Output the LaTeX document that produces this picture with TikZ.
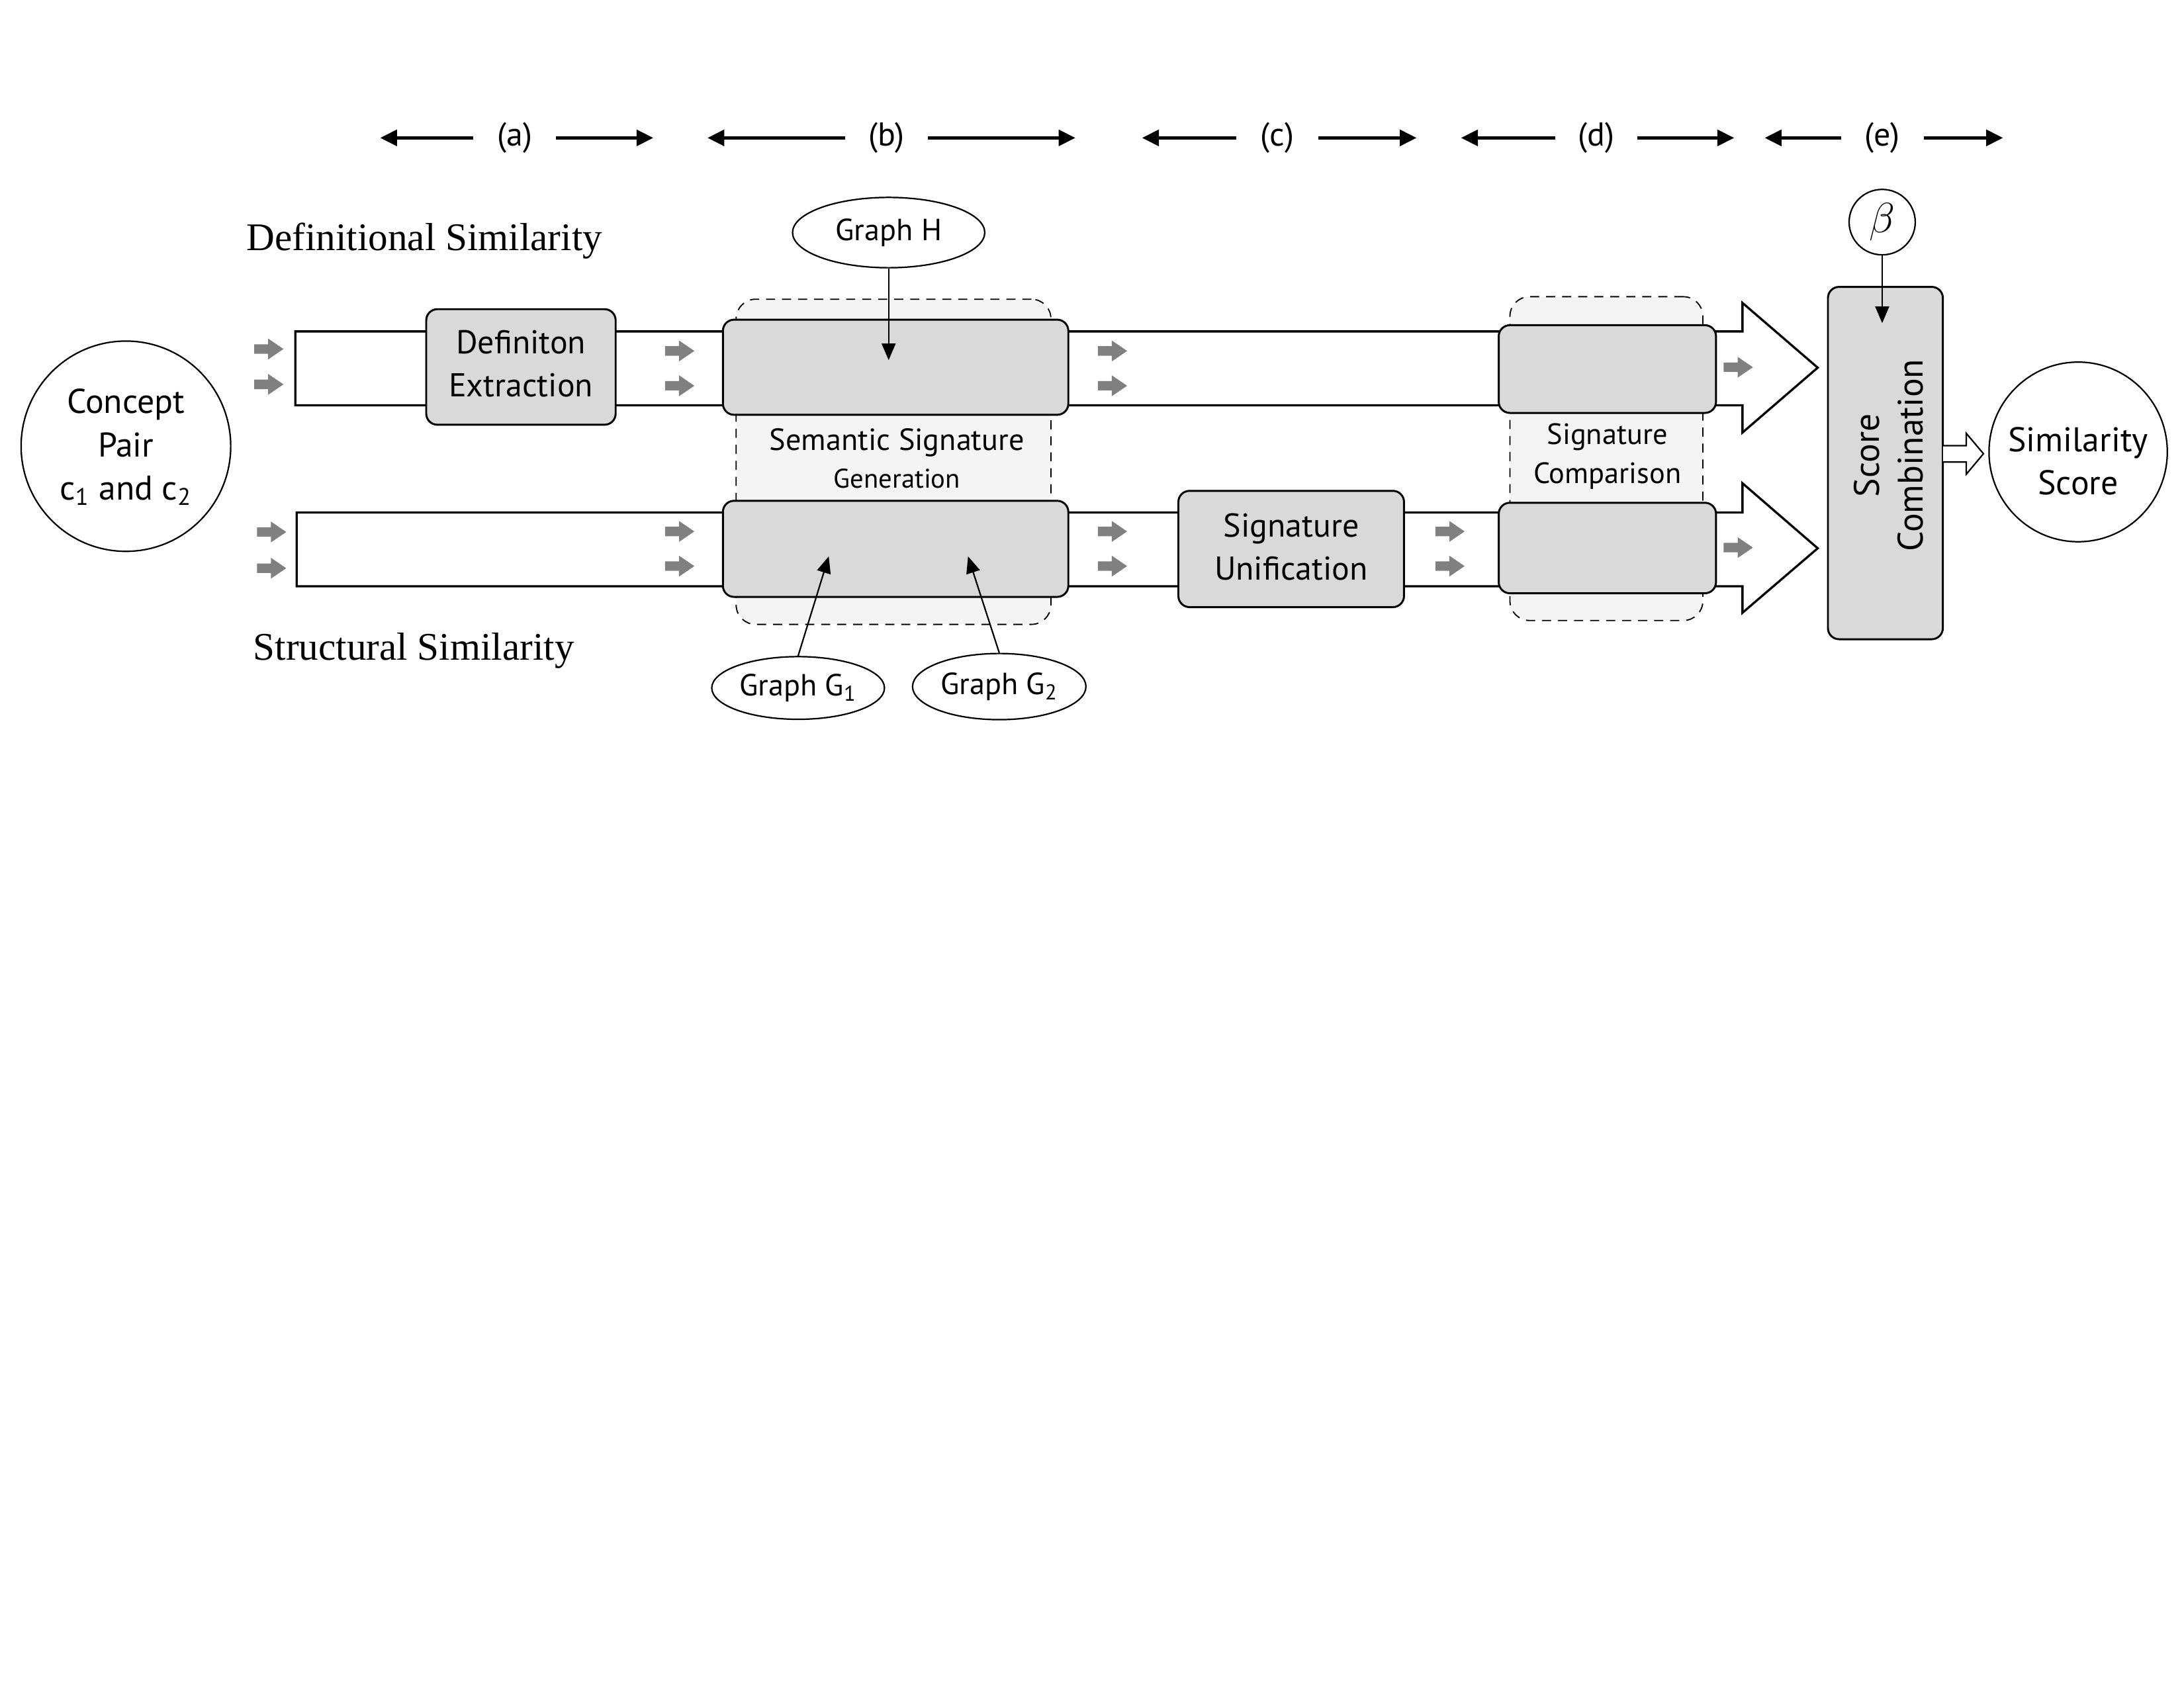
\documentclass[tikz,border=0pt]{standalone}
\usepackage{fontspec}
\setmainfont{Liberation Serif}
\setsansfont{PT Sans}
\usetikzlibrary{arrows.meta,shapes.geometric,calc}
\definecolor{boxgray}{HTML}{D9D9D9}
\definecolor{regiongray}{HTML}{F4F4F4}
\definecolor{arrowgray}{HTML}{808080}
\tikzset{
  procbox/.style={draw=black, line width=0.8pt, fill=boxgray, rounded corners=1.6mm, inner sep=0pt, align=center, font=\sffamily\fontsize{13.5}{17.6}\selectfont},
  dashregion/.style={draw=black, dash pattern=on 1.3mm off 1mm, line width=0.5pt, fill=regiongray, rounded corners=2.8mm, inner sep=0pt},
  pipe/.style={draw=black, line width=0.9pt, fill=white, line join=miter},
  oval/.style={ellipse, draw=black, line width=0.6pt, fill=white, inner sep=0pt, align=center, font=\sffamily\fontsize{12.5}{15}\selectfont},
  scalelbl/.style={inner sep=0pt, font=\sffamily\fontsize{13.5}{16}\selectfont},
  scalearr/.style={line width=1.2pt, -{Triangle[length=2.4mm,width=2.3mm]}},
  feed/.style={line width=0.6pt, -{Triangle[length=2.4mm,width=2mm]}},
  serifl/.style={inner sep=0pt, font=\fontsize{16}{19}\selectfont},
  regtxt/.style={inner sep=0pt, font=\sffamily\fontsize{12.5}{15}\selectfont},
  grayarrow/.pic={\fill[arrowgray] (-10.5,-3.4) -- (-0.5,-3.4) -- (-0.5,-7.5) -- (10.5,0) -- (-0.5,7.5) -- (-0.5,3.4) -- (-10.5,3.4) -- cycle;}
}
\begin{document}
\begin{tikzpicture}[x=0.2mm,y=-0.2mm]
\useasboundingbox[fill=white] (0,0) rectangle (1568,1212);

% dashed regions
\node[dashregion, minimum width=45.2mm, minimum height=46.7mm] (semreg) at (641.5,331.6) {};
\node[dashregion, minimum width=27.7mm, minimum height=46.5mm] (cmpreg) at (1153.3,329.3) {};

% pipelines
\draw[pipe] (212,238) -- (1251,238) -- (1251,217.5) -- (1305,264) -- (1251,310.6) -- (1251,291) -- (212,291) -- cycle;
\draw[pipe] (213,368) -- (1251,368) -- (1251,347) -- (1305,393.7) -- (1251,440) -- (1251,421) -- (213,421) -- cycle;

% boxes
\node[procbox, minimum width=27.2mm, minimum height=16.6mm] (defx) at (374,263.5) {};
\node[align=center, inner sep=0pt, font=\sffamily\fontsize{13.5}{17.6}\selectfont] (defxtxt) at (374,261) {Definiton\\Extraction};
\node[procbox, minimum width=49.6mm, minimum height=13.66mm] (semtop) at (643,263.7) {};
\node[procbox, minimum width=49.6mm, minimum height=13.8mm] (sembot) at (643,394.1) {};
\node[procbox, minimum width=32.4mm, minimum height=16.7mm] (sigu) at (927,394.2) {};
\node[align=center, inner sep=0pt, font=\sffamily\fontsize{13.5}{17.6}\selectfont] (sigutxt) at (927,392.5) {Signature\\Unification};
\node[procbox, minimum width=31.2mm, minimum height=12.6mm] (cmptop) at (1154,265) {};
\node[procbox, minimum width=31.2mm, minimum height=13mm] (cmpbot) at (1154,393.5) {};
\node[procbox, minimum width=16.5mm, minimum height=50.6mm] (score) at (1353.6,332.5) {};
\node[rotate=90, align=center, inner sep=0pt, font=\sffamily\fontsize{14.5}{18}\selectfont] (scoretxt) at (1356,327) {Score\\Combination};

% region labels
\node[regtxt] (semA) at (644,318) {Semantic Signature};
\node[regtxt, font=\sffamily\fontsize{11}{13}\selectfont] (semB) at (644,343.5) {Generation};
\node[regtxt, font=\sffamily\fontsize{12}{14}\selectfont] (cmpA) at (1154,314) {Signature};
\node[regtxt, font=\sffamily\fontsize{12}{14}\selectfont] (cmpB) at (1154,341.5) {Comparison};

% gray flow arrows
\foreach \x/\y in {193/250.6, 193/276, 195/382, 195/408, 488/252, 488/277, 488/381.6, 488/406.5, 798.7/252, 798.7/277, 798.7/381.6, 798.7/406.5, 1041/381.6, 1041/406.5, 1248/263.7, 1248/393.2}
  \pic at (\x,\y) {grayarrow};

% ovals
\node[oval, minimum width=30.1mm, minimum height=30.2mm] (concept) at (90.4,320.4) {};
\node[align=center, inner sep=0pt, font=\sffamily\fontsize{14}{17.6}\selectfont] (concepttxt) at (90.4,321) {Concept\\Pair\\c\textsubscript{1} and c\textsubscript{2}};
\node[oval, minimum width=25.6mm, minimum height=25.8mm] (simscore) at (1492,324.5) {};
\node[align=center, inner sep=0pt, font=\sffamily\fontsize{14}{17.6}\selectfont] (simtxt) at (1492,331) {Similarity\\Score};
\node[oval, minimum width=27.6mm, minimum height=10.1mm] (gh) at (638,167) {Graph H};
\node[oval, minimum width=24.8mm, minimum height=9mm] (g1) at (573,494) {Graph G\textsubscript{1}};
\node[oval, minimum width=24.9mm, minimum height=9.5mm] (g2) at (717.4,493) {Graph G\textsubscript{2}};
\node[oval, minimum width=9.5mm, minimum height=9.4mm, font=\fontsize{17}{17}\selectfont] (beta) at (1351.3,159.5) {$\beta$};

% feeding arrows
\coordinate (ghT) at (638,258.6);
\coordinate (g1T) at (595,399.5);
\coordinate (g2T) at (695,399.5);
\coordinate (betaT) at (1351.3,232);
\draw[feed] (gh.south) -- (ghT);
\draw[feed] (g1.north) -- (g1T);
\draw[feed] (g2.north) -- (g2T);
\draw[feed] (beta.south) -- (betaT);

% hollow output arrow
\draw[line width=0.6pt, fill=white, line join=miter] (1395,320) -- (1411.7,320) -- (1411.7,311.2) -- (1424,325.8) -- (1411.7,340.5) -- (1411.7,331.8) -- (1395,331.8);

% serif labels
\node[serifl, anchor=base west] (defsim) at (176.7,180) {Definitional Similarity};
\node[serifl, anchor=base west] (strsim) at (181.5,474) {Structural Similarity};

% stage scale
\node[scalelbl, minimum width=11.8mm] (la) at (369.5,99) {(a)};
\node[scalelbl, minimum width=11.8mm] (lb) at (636.5,99) {(b)};
\node[scalelbl, minimum width=11.6mm] (lc) at (917,99) {(c)};
\node[scalelbl, minimum width=11.6mm] (ld) at (1146,99) {(d)};
\node[scalelbl, minimum width=11.8mm] (le) at (1351.5,99) {(e)};
\coordinate (laL) at (273,99);  \coordinate (laR) at (469,99);
\coordinate (lbL) at (508,99);  \coordinate (lbR) at (772,99);
\coordinate (lcL) at (820,99);  \coordinate (lcR) at (1017,99);
\coordinate (ldL) at (1049,99); \coordinate (ldR) at (1245,99);
\coordinate (leL) at (1267,99); \coordinate (leR) at (1438,99);
\foreach \n in {la,lb,lc,ld,le}{
  \draw[scalearr] (\n.west) -- (\n L);
  \draw[scalearr] (\n.east) -- (\n R);
}
\end{tikzpicture}
\end{document}
